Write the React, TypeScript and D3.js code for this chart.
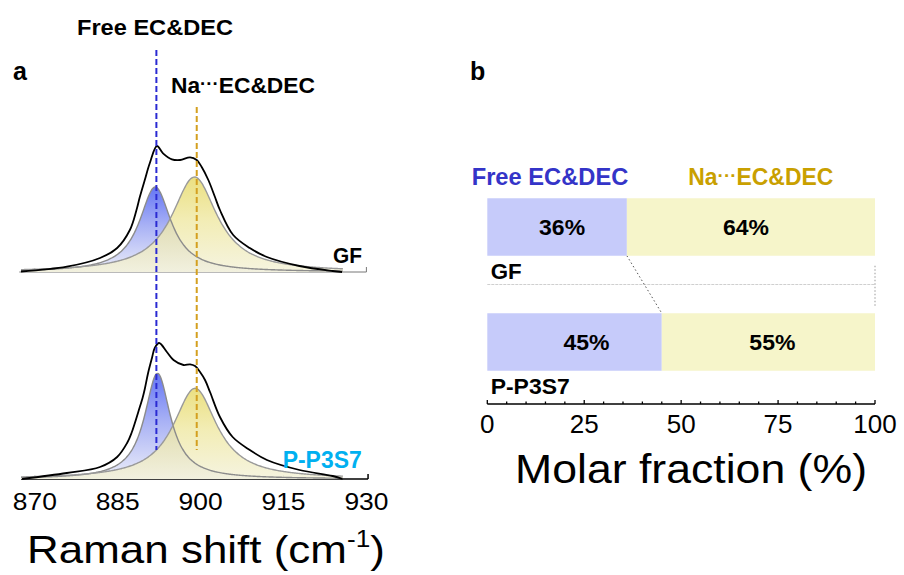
import React from "react";
import * as d3 from "d3";

// ---- Raman panel (a) ----
const ramanTicks = [870, 885, 900, 915, 930];
const samples = ["GF", "P-P3S7"];

// measured spectra: Raman shift (cm-1) and intensity (a.u.)
const gfShift = [867.5, 875.8, 881.8, 884.9, 887.2, 888.4, 889.0, 889.9, 890.8, 892.1, 893.2, 894.8, 896.3, 898.1, 899.3, 900.2, 901.4, 902.6, 903.5, 905.9, 908.9, 912.0, 917.9, 923.9, 925.6];
const gfIntensity = [0.5, 5.3, 14, 24, 42, 62, 75, 92, 108.7, 126, 118.7, 112.7, 112, 114.7, 112, 105, 92, 75, 62, 37, 24, 15, 6, 1, 0];
const pShift = [867.7, 875.8, 881.8, 884.9, 886.7, 887.5, 889.0, 889.5, 889.9, 890.5, 891.2, 891.7, 892.5, 893.9, 895.1, 896.9, 898.1, 899.0, 899.9, 900.8, 901.7, 903.5, 905.8, 908.9, 912.0, 917.9, 923.9, 925.7];
const pIntensity = [0, 6, 12, 22, 36, 46, 72, 81, 90, 106, 121, 131, 136, 127, 119, 114, 114.7, 113, 107, 99, 87, 62, 42, 29, 19, 9, 3, 0];

// Lorentzian fit components (per sample: GF, P-P3S7)
const freeCenter = [891.8, 892.2];
const freeAmp = [85, 105.7];
const freeHwhm = [3.5, 2.85];
const naCenter = [898.9, 899.0];
const naAmp = [95, 90.7];
const naHwhm = [5.0, 4.8];

// reference band positions
const freeBand = 892.0;
const naBand = 899.3;

// ---- Molar fraction panel (b) ----
const freeFraction = [36, 45];
const naFraction = [64, 55];
const fractionTicks = [0, 25, 50, 75, 100];

const FONT = "'Liberation Sans', Arial, Helvetica, sans-serif";
const BLUE_TXT = "#3434c8";
const GOLD_TXT = "#c9a000";

type LabelProps = {
  x: number;
  y: number;
  size: number;
  width?: number;
  bold?: boolean;
  fill?: string;
  anchor?: "start" | "middle" | "end";
  children: React.ReactNode;
};

function Label({ x, y, size, width, bold, fill = "#000", anchor = "start", children }: LabelProps) {
  return (
    <text
      x={x}
      y={y}
      fontSize={size}
      fontWeight={bold ? "bold" : "normal"}
      fill={fill}
      textAnchor={anchor}
      fontFamily={FONT}
      textLength={width}
      lengthAdjust={width ? "spacingAndGlyphs" : undefined}
    >
      {children}
    </text>
  );
}

function lorentz(v: number, c: number, a: number, w: number) {
  return a / (1 + ((v - c) / w) ** 2);
}

export default function App() {
  // Raman scales
  const x = d3.scaleLinear().domain([870, 930]).range([34.8, 366.4]);
  const y = d3.scaleLinear().domain([0, 479]).range([479, 0]);
  const stackOffset = [207, 0];

  const spectra = [
    gfShift.map((s, i) => [s, gfIntensity[i]] as [number, number]),
    pShift.map((s, i) => [s, pIntensity[i]] as [number, number]),
  ];
  const grid = d3.range(867.5, 925.76, 0.25);

  const lineFor = (off: number) =>
    d3
      .line<[number, number]>()
      .x((d) => x(d[0]))
      .y((d) => y(d[1] + off))
      .curve(d3.curveCatmullRom.alpha(0.5));
  const areaFor = (off: number) =>
    d3
      .area<[number, number]>()
      .x((d) => x(d[0]))
      .y0(y(off))
      .y1((d) => y(d[1] + off))
      .curve(d3.curveMonotoneX);
  const fitLine = (off: number) =>
    d3
      .line<[number, number]>()
      .x((d) => x(d[0]))
      .y((d) => y(d[1] + off))
      .curve(d3.curveMonotoneX);

  // fraction scales
  const fx = d3.scaleLinear().domain([0, 100]).range([487.3, 875]);
  const band = d3
    .scaleBand<string>()
    .domain(samples)
    .range([169.5, 399.5])
    .paddingInner(0.5)
    .paddingOuter(0.25);
  const bw = band.bandwidth();
  const axisY = 404;
  const pctNudge = [
    [5, -5],
    [12, 4],
  ];
  const midY = ((band(samples[0]) ?? 0) + bw + (band(samples[1]) ?? 0)) / 2;

  const minorTicks = d3.range(0, 101, 5);

  return (
    <svg
      width={904}
      height={575}
      style={{ position: "absolute", left: 0, top: 0, background: "#fff" }}
      fontFamily={FONT}
    >
      <defs>
        <linearGradient id="gFree" x1="0" y1="0" x2="0" y2="1">
          <stop offset="0" stopColor="#6576f4" />
          <stop offset="0.45" stopColor="#a8b1f5" />
          <stop offset="1" stopColor="#eceef9" />
        </linearGradient>
        <linearGradient id="gNa" x1="0" y1="0" x2="0" y2="1">
          <stop offset="0" stopColor="#e6d862" />
          <stop offset="0.45" stopColor="#efe8a2" />
          <stop offset="1" stopColor="#f3f1d8" />
        </linearGradient>
      </defs>

      {/* ---------- panel a ---------- */}
      <Label x={13} y={80} size={25} bold>
        a
      </Label>

      {/* baselines */}
      <line x1={x(867.2)} x2={x(930)} y1={y(stackOffset[0])} y2={y(stackOffset[0])} stroke="#777" strokeWidth={1} />
      <line x1={x(930)} x2={x(930)} y1={y(stackOffset[0])} y2={y(stackOffset[0]) - 5} stroke="#777" strokeWidth={1} />
      <line x1={x(867.5)} x2={x(930.3)} y1={y(0)} y2={y(0)} stroke="#000" strokeWidth={1.5} />
      <line x1={x(930.3)} x2={x(930.3)} y1={y(0)} y2={y(0) - 5} stroke="#000" strokeWidth={1.5} />
      {stackOffset.map((off, k) =>
        ramanTicks.slice(0, 4).map((t) => (
          <line key={`mt${k}-${t}`} x1={x(t)} x2={x(t)} y1={y(off)} y2={y(off) - 4} stroke="#c8c8c8" strokeWidth={1} />
        ))
      )}

      {samples.map((s, k) => {
        const off = stackOffset[k];
        const free = grid.map((v) => [v, lorentz(v, freeCenter[k], freeAmp[k], freeHwhm[k])] as [number, number]);
        const na = grid.map((v) => [v, lorentz(v, naCenter[k], naAmp[k], naHwhm[k])] as [number, number]);
        return (
          <g key={s}>
            <path d={areaFor(off)(free) ?? ""} fill="url(#gFree)" />
            <path d={areaFor(off)(na) ?? ""} fill="url(#gNa)" fillOpacity={0.8} />
            <path d={fitLine(off)(free) ?? ""} fill="none" stroke="#8c8c8c" strokeWidth={1.4} />
            <path d={fitLine(off)(na) ?? ""} fill="none" stroke="#9a9a9a" strokeWidth={1.4} />
            <path d={lineFor(off)(spectra[k]) ?? ""} fill="none" stroke="#000" strokeWidth={1.8} />
          </g>
        );
      })}

      {/* band markers */}
      <line x1={x(freeBand)} x2={x(freeBand)} y1={50} y2={450} stroke="#2a2ad2" strokeWidth={2} strokeDasharray="6,3" />
      <line x1={x(naBand)} x2={x(naBand)} y1={107} y2={450} stroke="#d4a020" strokeWidth={2} strokeDasharray="6,3" />

      <Label x={155} y={35} size={22} width={156} bold anchor="middle">
        Free EC&amp;DEC
      </Label>
      <text x={171} y={93.3} fontSize={22} fontWeight="bold" fontFamily={FONT} textLength={144} lengthAdjust="spacingAndGlyphs">
        Na
        <tspan fontSize={18} dy={-3}>
          ···
        </tspan>
        <tspan dy={3}>EC&amp;DEC</tspan>
      </text>

      <Label x={362} y={263} size={22} width={29} bold anchor="end">
        {samples[0]}
      </Label>
      <Label x={361.7} y={468.3} size={23} width={79} bold anchor="end" fill="#00b0f0">
        {samples[1]}
      </Label>

      {ramanTicks.map((t) => (
        <Label key={t} x={x(t)} y={510} size={23.3} width={44} anchor="middle">
          {t}
        </Label>
      ))}

      <g transform="translate(27,563.3) scale(1.139,1)">
        <text x={0} y={0} fontSize={38.6} fontFamily={FONT}>
          Raman shift (cm
          <tspan fontSize={23} dy={-16.6}>
            -1
          </tspan>
          <tspan dy={16.6}>)</tspan>
        </text>
      </g>

      {/* ---------- panel b ---------- */}
      <Label x={470} y={80} size={25} bold>
        b
      </Label>

      <Label x={471.7} y={185} size={23} width={156.6} bold fill={BLUE_TXT}>
        Free EC&amp;DEC
      </Label>
      <text x={688.3} y={185} fontSize={23} fontWeight="bold" fill={GOLD_TXT} fontFamily={FONT} textLength={145} lengthAdjust="spacingAndGlyphs">
        Na
        <tspan fontSize={19} dy={-3}>
          ···
        </tspan>
        <tspan dy={3}>EC&amp;DEC</tspan>
      </text>

      {/* separators between samples */}
      <line x1={fx(0)} x2={fx(100)} y1={midY} y2={midY} stroke="#cfcfcf" strokeWidth={1} strokeDasharray="3,1" />
      <line
        x1={fx(freeFraction[0])}
        y1={(band(samples[0]) ?? 0) + bw}
        x2={fx(freeFraction[1])}
        y2={band(samples[1]) ?? 0}
        stroke="#555"
        strokeWidth={1}
        strokeDasharray="1.5,2.5"
      />
      <line
        x1={fx(100)}
        y1={(band(samples[0]) ?? 0) + bw + 10}
        x2={fx(100)}
        y2={(band(samples[1]) ?? 0) - 6}
        stroke="#999"
        strokeWidth={1}
        strokeDasharray="1.5,2"
      />

      {samples.map((s, i) => {
        const top = band(s) ?? 0;
        return (
          <g key={s}>
            <rect x={fx(0)} y={top} width={fx(freeFraction[i]) - fx(0)} height={bw} fill="#c6cbfa" />
            <rect x={fx(freeFraction[i])} y={top} width={fx(100) - fx(freeFraction[i])} height={bw} fill="#f6f5ca" />
            <Label x={(fx(0) + fx(freeFraction[i])) / 2 + pctNudge[i][0]} y={top + bw / 2 + 8} size={22} width={46} bold anchor="middle">
              {`${freeFraction[i]}%`}
            </Label>
            <Label x={(fx(freeFraction[i]) + fx(100)) / 2 + pctNudge[i][1]} y={top + bw / 2 + 8} size={22} width={46} bold anchor="middle">
              {`${naFraction[i]}%`}
            </Label>
            <Label x={490.7} y={top + bw + 23.5} size={21.5} width={i === 0 ? 31 : 79} bold>
              {s}
            </Label>
          </g>
        );
      })}

      {/* fraction axis */}
      <line x1={fx(0)} x2={fx(100)} y1={axisY} y2={axisY} stroke="#000" strokeWidth={1.5} />
      {minorTicks.map((t) => (
        <line key={t} x1={fx(t)} x2={fx(t)} y1={axisY} y2={axisY - (t % 25 === 0 ? 4 : 2.5)} stroke="#000" strokeWidth={1.3} />
      ))}
      {fractionTicks.map((t) => (
        <Label key={t} x={fx(t)} y={433.3} size={26} anchor="middle">
          {t}
        </Label>
      ))}
      <Label x={515} y={483.3} size={41} width={352}>
        Molar fraction (%)
      </Label>
    </svg>
  );
}
